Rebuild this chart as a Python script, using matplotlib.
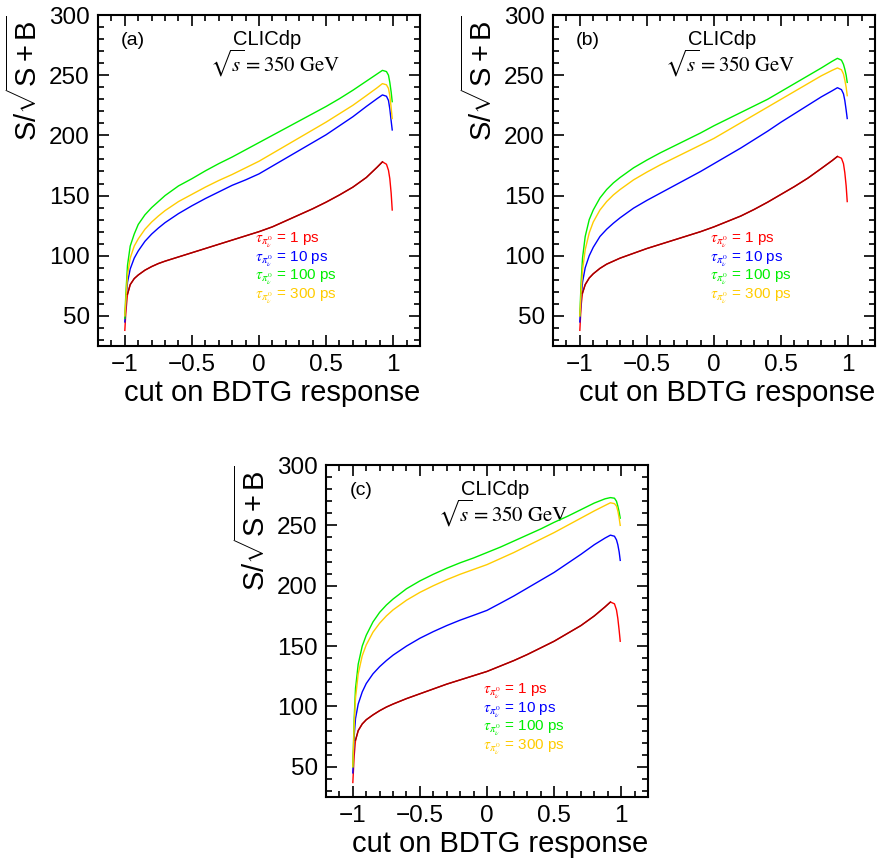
import numpy as np
import matplotlib
matplotlib.use("Agg")
import matplotlib.pyplot as plt
from matplotlib.ticker import MultipleLocator

plt.rcParams["font.family"] = ["Liberation Sans", "DejaVu Sans"]
plt.rcParams["mathtext.fontset"] = "custom"
plt.rcParams["mathtext.rm"] = "Liberation Sans"
plt.rcParams["mathtext.sf"] = "Liberation Sans"
plt.rcParams["mathtext.it"] = "Liberation Sans:italic"

# ===============================
# Data
# ===============================

bdtg_cut = [-1.0, -0.995, -0.99, -0.98, -0.96, -0.93, -0.9, -0.85, -0.8, -0.75,
            -0.7, -0.6, -0.5, -0.4, -0.3, -0.2, -0.1, 0.0, 0.1, 0.2, 0.3, 0.4,
            0.5, 0.6, 0.7, 0.8, 0.88, 0.92, 0.95, 0.965, 0.975, 0.985, 0.993]

# panel (a)
a_1ps = [38, 48, 56, 68, 76, 81, 84, 88, 91, 93.5, 95.5, 99, 102.5, 106, 109.5,
         113, 116.5, 120, 124, 129, 134, 139, 144.5, 150.5, 157, 165, 173.5,
         178, 176, 171, 164, 152, 138]
a_10ps = [45, 55, 65, 78, 89, 98, 104, 112, 118, 123, 127.5, 135, 141.5, 147.5,
          153, 158.5, 163, 168, 174.5, 181, 187.5, 194, 200.5, 208, 215.5, 224,
          230.5, 233.6, 232.5, 229, 222, 212, 204.5]
a_100ps = [48, 62, 73, 92, 108, 118, 126, 134, 140, 145, 150, 158, 164, 170.5,
           176.5, 182, 188, 194, 200, 206, 212, 218, 224, 230.5, 237.5, 245,
           251, 254, 253, 250, 244, 236, 228]
a_300ps = [50, 58, 67, 84, 98, 108, 114, 122, 128, 133, 137.5, 145, 151, 157,
           162.5, 167.5, 173, 178.5, 185, 191.5, 198, 204.5, 211, 218, 225, 233,
           239.5, 243, 242, 239, 233, 223, 214]

# panel (b)
b_1ps = [38, 49, 59, 69, 76, 81.5, 85, 89.5, 93, 95.5, 98, 102, 106, 109.5, 113,
         116.5, 120, 124, 128.5, 133, 138.5, 144.5, 151, 157.5, 164.5, 172.5,
         179, 182.5, 181, 176.5, 169, 158, 145]
b_10ps = [45, 55, 64.7, 78, 90, 100, 107, 116, 122, 127, 131.5, 139.5, 146, 152,
          158, 164, 170, 176.5, 183, 189.5, 196.5, 203.5, 211, 218, 225, 232,
          237, 239.6, 238, 234.5, 229, 221, 214]
b_100ps = [50, 65, 78.5, 98, 116, 130, 138, 148, 155, 160.5, 165, 173, 179.5,
           185.5, 191, 196.5, 202, 208, 213.5, 219, 224.5, 230, 236.5, 243,
           249.5, 256, 261.5, 264, 262.5, 259, 255, 250, 244]
b_300ps = [50, 60, 70, 88, 105, 119, 128, 138, 145, 150.5, 155, 163, 169.5,
           175.5, 181, 186.5, 192, 197.5, 204, 210.5, 217, 223.5, 230, 236.5,
           243, 249.5, 254, 256, 254.5, 251, 246, 240, 233]

# panel (c)
c_1ps = [37, 48, 59, 72, 80, 85.5, 89, 93, 96.5, 99.5, 102, 106.5, 110.5, 114.5,
         118.5, 122, 125.5, 129, 133.5, 138, 143, 148.5, 154, 160.5, 167, 175,
         182.5, 186.5, 185, 180, 173, 163, 154]
c_10ps = [45, 60, 75.7, 90, 102, 112, 119, 127, 133, 138, 142.5, 150, 156.5, 162,
          167, 171.5, 175.5, 179.6, 185.5, 191.5, 198, 204.5, 211, 218.5, 226,
          234, 239.5, 241.9, 241, 238, 234, 228, 221]
c_100ps = [50, 70, 89.6, 115, 135, 150, 159, 170, 178, 184, 189, 197.5, 204,
           209.5, 214.5, 219, 223, 227.5, 232, 237, 242, 247, 252.5, 257.5, 263,
           268.5, 272, 273, 272.5, 270, 266, 261, 256]
c_300ps = [50, 66, 84, 107, 127, 142, 151, 161.5, 169, 175, 180, 188, 194.5, 200,
           205, 209.5, 213.5, 217.5, 222.5, 227.5, 233, 238.5, 244, 250, 256, 262,
           266.5, 268.7, 268, 266, 262, 256, 250]

lifetimes = ["1 ps", "10 ps", "100 ps", "300 ps"]
colors = ["#ff0000", "#0000ff", "#00ee00", "#ffcc00"]
panel_tags = ["(a)", "(b)", "(c)"]


def draw_panel(ax, curves, tag):
    x = np.array(bdtg_cut)
    # draw order: red, blue, yellow, green (green on top)
    for i in [0, 1, 3, 2]:
        ax.plot(x, curves[i], color=colors[i], lw=1.0, zorder=3 + i)
    # the 1 ps curve is dark red below the peak, bright red at the edges
    red = np.array(curves[0])
    ipk = int(np.argmax(red))
    ax.plot(x[3:ipk + 1], red[3:ipk + 1], color="#a00000", lw=1.0, zorder=8)

    ax.set_xlim(-1.2, 1.2)
    ax.set_ylim(25, 300)
    ax.xaxis.set_minor_locator(MultipleLocator(0.1))
    ax.yaxis.set_minor_locator(MultipleLocator(10))
    ax.set_yticks([50, 100, 150, 200, 250, 300])
    ax.set_xticks([-1, -0.5, 0, 0.5, 1])
    ax.set_xticklabels(["\u22121", "\u22120.5", "0", "0.5", "1"])
    ax.tick_params(which="both", direction="in", top=True, right=True,
                   labelsize=17.5, width=1.2)
    ax.tick_params(which="major", length=8, pad=6)
    ax.tick_params(which="minor", length=4.5)
    for s in ax.spines.values():
        s.set_linewidth(1.5)

    ax.set_xlabel("cut on BDTG response", fontsize=21, loc="right", labelpad=2)
    ax.set_ylabel(r"S/$\sqrt{\mathsf{S + B}}$", fontsize=21, loc="top", labelpad=4)

    ax.text(0.109, 0.924, tag, transform=ax.transAxes, fontsize=14,
            ha="center", va="center")
    ax.text(0.525, 0.927, "CLICdp", transform=ax.transAxes, fontsize=14.5,
            ha="center", va="center")
    ax.text(0.55, 0.855, r"$\sqrt{s} = 350\ \mathrm{GeV}$", transform=ax.transAxes,
            fontsize=15, ha="center", va="center", math_fontfamily="stix")

    # legend: one coloured line of text per lifetime
    for i, lt in enumerate(lifetimes):
        ax.text(0.488, 0.318 - i * 0.056, r"$\tau_{\pi^0_\nu}$ = " + lt,
                transform=ax.transAxes, fontsize=11, color=colors[i],
                ha="left", va="center", math_fontfamily="stix")


def main():
    fig = plt.figure(figsize=(8.79, 8.64), dpi=100)
    W, H = 879.0, 864.0
    ax_a = fig.add_axes([98 / W, 1 - 346 / H, 322 / W, 331 / H])
    ax_b = fig.add_axes([553 / W, 1 - 346 / H, 322 / W, 331 / H])
    ax_c = fig.add_axes([326 / W, 1 - 797 / H, 322 / W, 332 / H])

    draw_panel(ax_a, [a_1ps, a_10ps, a_100ps, a_300ps], panel_tags[0])
    draw_panel(ax_b, [b_1ps, b_10ps, b_100ps, b_300ps], panel_tags[1])
    draw_panel(ax_c, [c_1ps, c_10ps, c_100ps, c_300ps], panel_tags[2])

    fig.savefig("out.png", dpi=100)


if __name__ == "__main__":
    main()
